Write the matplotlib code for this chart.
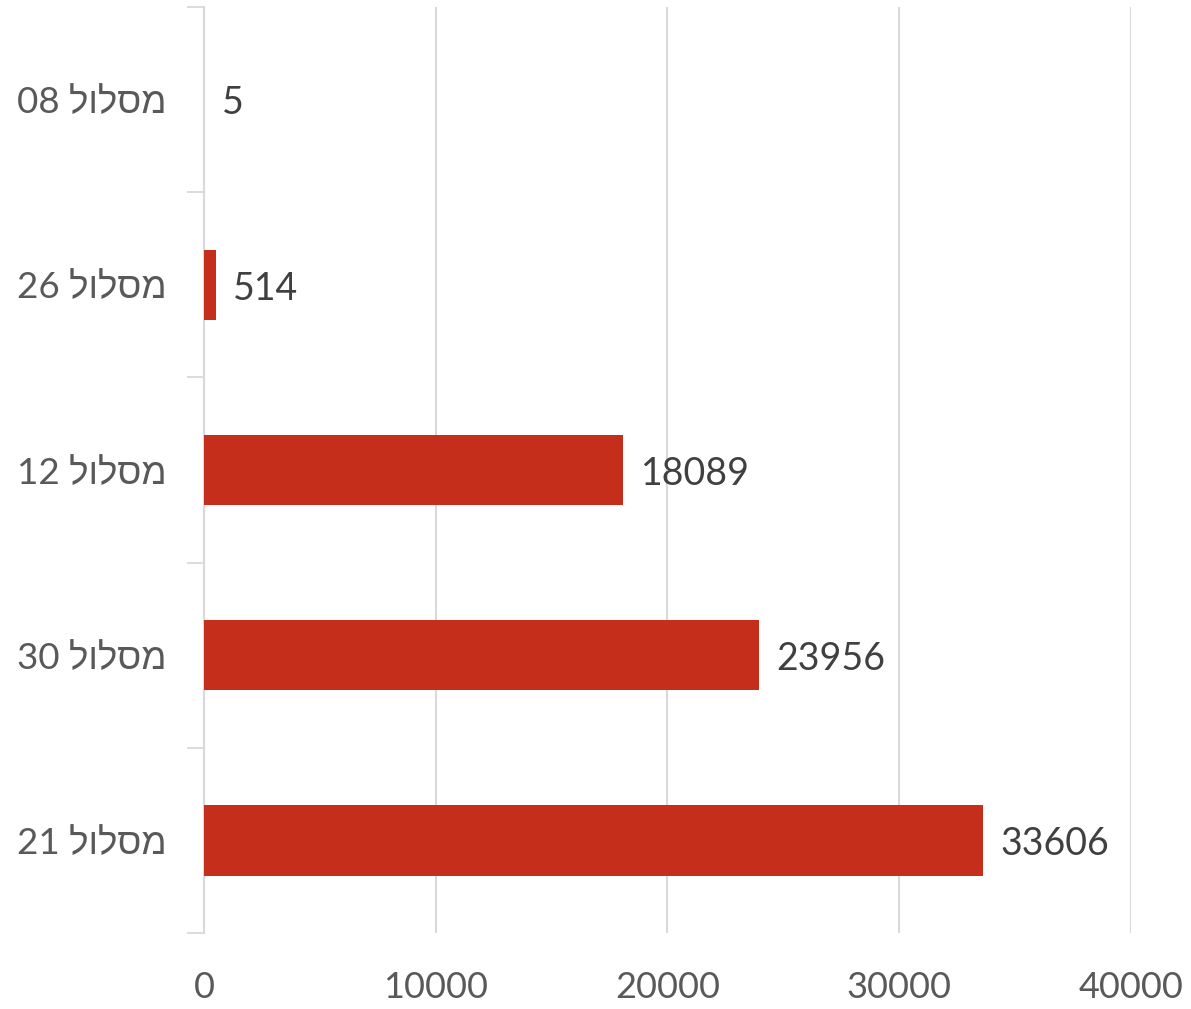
import matplotlib

matplotlib.use('Agg')
from matplotlib import pyplot as plt

# data, top to bottom as in the chart
routes = ['מסלול 08', 'מסלול 26', 'מסלול 12', 'מסלול 30', 'מסלול 21']
counts = [5, 514, 18089, 23956, 33606]
x_ticks = [0, 10000, 20000, 30000, 40000]


def visual_rtl(label):
    """matplotlib has no bidi: put the number left and flip the Hebrew word"""
    word, num = label.split(' ')
    return num + ' ' + word[::-1]


plt.rcParams['font.family'] = ['Lato', 'Liberation Sans', 'DejaVu Sans']

fig = plt.figure(figsize=(11.91, 10.09), dpi=100)
ax = fig.add_axes([0.1713, 0.0753, 0.7783, 0.9177])

pos = list(range(len(routes)))
ax.barh(pos, counts, height=0.38, color='#C42E1A', zorder=2)

for y, v in zip(pos, counts):
    ax.text(v + 750, y + 0.02, str(v), va='center', ha='left',
            fontsize=27, color='#404040', zorder=3)

ax.set_ylim(len(routes) - 0.5, -0.5)
ax.set_xlim(0, 40000)

ax.set_yticks(pos)
ax.set_yticklabels([visual_rtl(r) for r in routes], fontsize=26.5, color='#595959')
ax.tick_params(axis='y', length=0, pad=27)
# small tick marks between categories on the axis line
ax.set_yticks([p - 0.5 for p in pos] + [len(routes) - 0.5], minor=True)
ax.tick_params(axis='y', which='minor', length=12, color='#D9D9D9', width=1.3)

ax.set_xticks(x_ticks)
ax.set_xticklabels([str(t) for t in x_ticks], fontsize=26, color='#595959')
ax.tick_params(axis='x', length=0, pad=27)

ax.grid(axis='x', color='#D9D9D9', linewidth=1.5, zorder=0)
for s in ['top', 'right', 'bottom']:
    ax.spines[s].set_visible(False)
ax.spines['left'].set_color('#D9D9D9')
ax.spines['left'].set_linewidth(1.5)
ax.spines['left'].set_zorder(1)

fig.savefig('out.png', dpi=100)
